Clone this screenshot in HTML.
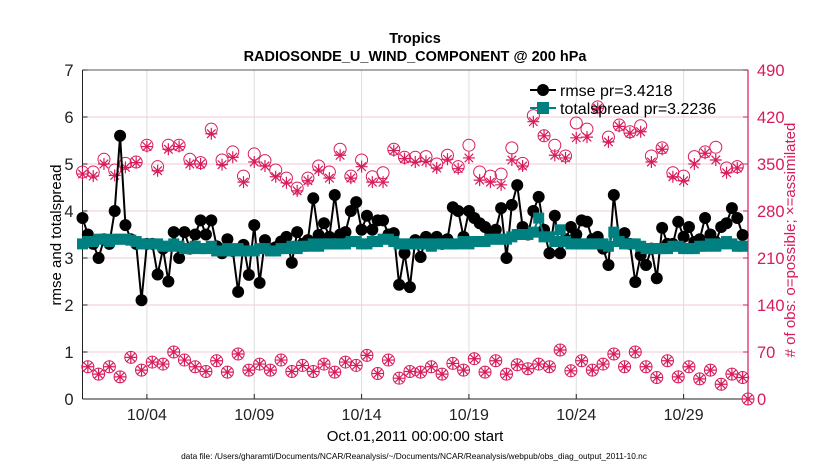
<!DOCTYPE html>
<html><head><meta charset="utf-8"><style>
body{margin:0;background:#fff;}
svg{display:block;font-family:"Liberation Sans",sans-serif;}
</style></head><body>
<svg id="chart" width="830" height="470" viewBox="0 0 830 470" xmlns="http://www.w3.org/2000/svg">
<rect width="830" height="470" fill="#fff"/>
<text x="415" y="43" text-anchor="middle" font-size="14.5" font-weight="bold">Tropics</text>
<text x="415" y="61" text-anchor="middle" font-size="14.5" font-weight="bold">RADIOSONDE_U_WIND_COMPONENT @ 200 hPa</text>
<g id="grid"></g>
<g id="axes"></g>
<g id="marks"></g>
<g id="legend">
 <line x1="530" y1="90" x2="556" y2="90" stroke="#000" stroke-width="2"/>
 <circle cx="543" cy="90" r="6" fill="#000"/>
 <text x="560" y="96" font-size="16">rmse pr=3.4218</text>
 <line x1="530" y1="108" x2="556" y2="108" stroke="#008080" stroke-width="2"/>
 <rect x="537" y="102" width="12" height="12" fill="#008080"/>
 <text x="560" y="114" font-size="16">totalspread pr=3.2236</text>
</g>
<text transform="translate(61,235) rotate(-90)" text-anchor="middle" font-size="15">rmse and totalspread</text>
<text transform="translate(795,240) rotate(-90)" text-anchor="middle" font-size="15" fill="#d81b5a"># of obs: o=possible; ×=assimilated</text>
<text x="415" y="441" text-anchor="middle" font-size="15">Oct.01,2011 00:00:00 start</text>
<text x="414" y="459" text-anchor="middle" font-size="8.3">data file: /Users/gharamti/Documents/NCAR/Reanalysis/~/Documents/NCAR/Reanalysis/webpub/obs_diag_output_2011-10.nc</text>
</svg>
<script>
const rmse=[3.85,3.5,3.3,3.0,3.4,3.3,4.0,5.6,3.7,3.4,3.3,2.1,3.3,3.3,2.65,3.2,2.5,3.55,3.0,3.55,3.2,3.5,3.8,3.5,3.8,3.25,3.1,3.4,3.15,2.28,3.28,2.64,3.7,2.47,3.38,3.2,3.23,3.35,3.45,2.9,3.55,3.3,3.38,4.27,3.49,3.74,3.45,4.34,3.5,3.55,4.0,4.19,3.6,3.9,3.6,3.8,3.8,3.5,3.53,2.43,3.1,2.38,3.38,3.02,3.45,3.3,3.45,3.3,3.4,4.08,4.0,3.45,4.0,3.85,3.74,3.66,3.5,3.6,4.06,3.0,4.13,4.55,3.66,3.5,4.0,4.3,3.6,3.1,3.9,3.1,3.4,3.66,3.5,3.8,3.77,3.4,3.45,3.2,2.85,4.34,3.4,3.53,3.3,2.49,3.06,2.85,3.2,2.57,3.64,3.3,3.3,3.77,3.45,3.66,3.34,3.4,3.85,3.5,3.34,3.66,3.74,4.06,3.85,3.49];
const totalspread=[3.3,3.35,3.35,3.4,3.4,3.35,3.4,3.4,3.4,3.38,3.35,3.3,3.3,3.3,3.3,3.25,3.25,3.3,3.25,3.2,3.2,3.25,3.2,3.2,3.25,3.15,3.15,3.2,3.15,3.2,3.15,3.15,3.15,3.2,3.2,3.15,3.15,3.2,3.2,3.25,3.2,3.25,3.25,3.3,3.25,3.3,3.3,3.3,3.3,3.3,3.35,3.35,3.3,3.3,3.35,3.35,3.4,3.4,3.35,3.3,3.3,3.3,3.3,3.3,3.3,3.25,3.3,3.3,3.3,3.3,3.3,3.35,3.3,3.35,3.35,3.35,3.4,3.4,3.4,3.4,3.45,3.5,3.5,3.5,3.55,3.85,3.45,3.45,3.35,3.6,3.35,3.3,3.3,3.3,3.3,3.3,3.3,3.3,3.25,3.55,3.35,3.3,3.3,3.3,3.25,3.2,3.2,3.2,3.2,3.2,3.25,3.25,3.2,3.2,3.2,3.25,3.25,3.3,3.25,3.3,3.35,3.3,3.25,3.25];
const possibleMain=[338,338,357,341,351,353,378,346,378,378,357,352,402,356,368,332,365,355,341,329,314,329,347,338,372,332,356,331,337,372,360,360,361,350,363,346,378,338,332,335,374,351,422,392,378,362,411,402,435,390,408,398,407,362,374,337,332,361,368,375,344,346,0];
const assimMain=[335,332,350,333,345,352,376,340,372,376,350,350,395,349,360,323,353,347,331,322,310,325,341,329,363,329,346,323,323,370,358,353,354,344,357,343,359,326,323,319,356,347,413,392,363,359,389,390,433,383,406,396,398,353,372,331,325,350,366,356,337,344,0];
const possibleOff=[48,37,48,33,62,43,55,52,70,58,48,41,57,40,67,43,52,43,58,41,50,41,52,40,55,50,65,38,58,31,41,40,48,37,53,43,60,40,57,37,51,45,52,48,73,42,57,43,52,67,48,70,48,32,57,33,48,30,43,22,37,32];
const assimOff=[48,37,48,33,62,43,55,52,70,58,48,41,57,40,67,43,52,43,58,41,50,41,52,40,55,50,65,38,58,31,41,40,48,37,53,43,60,40,57,37,51,45,52,48,73,42,57,43,52,67,48,70,48,32,57,33,48,30,43,22,37,32];
const xTickDays=[3,8,13,18,23,28];
const xTickLabels=["10/04","10/09","10/14","10/19","10/24","10/29"];
const yLeftTicks=[0,1,2,3,4,5,6,7];
const yRightTicks=[0,70,140,210,280,350,420,490];

const NS="http://www.w3.org/2000/svg";
const X0=82.5,X1=748,Y0=399,Y1=70,D0=0,D1=31;
const xs=d=>X0+(d-D0)/(D1-D0)*(X1-X0);
const yl=v=>Y0-v/7*(Y0-Y1);
const yr=v=>Y0-v/490*(Y0-Y1);
const PINK="#d81b5a";
function mk(tag,attrs,parent){const e=document.createElementNS(NS,tag);for(const k in attrs)e.setAttribute(k,attrs[k]);parent.appendChild(e);return e;}
const grid=document.getElementById('grid'),axes=document.getElementById('axes'),marks=document.getElementById('marks');

yLeftTicks.forEach((v,i)=>{
 if(v>0&&v<7){const g=mk('line',{x1:X0,x2:X1,y1:yl(v),y2:yl(v),stroke:'#f2c8d6','stroke-width':1},grid);
 
 }
 const t=mk('text',{x:X0-9,y:yl(v)+6,'text-anchor':'end','font-size':16.5,fill:'#222'},axes);t.textContent=v;
 
 
 mk('line',{x1:X0,x2:X0+5,y1:yl(v),y2:yl(v),stroke:'#222'},axes);
});
yRightTicks.forEach(v=>{
 const t=mk('text',{x:X1+9,y:yr(v)+6,'font-size':16.5,fill:PINK},axes);t.textContent=v;
 
 
 mk('line',{x1:X1-5,x2:X1,y1:yr(v),y2:yr(v),stroke:PINK},axes);
});
xTickDays.forEach((d,i)=>{
 const g=mk('line',{x1:xs(d),x2:xs(d),y1:Y1,y2:Y0,stroke:'#ddd','stroke-width':1},grid);
 
 
 mk('line',{x1:xs(d),x2:xs(d),y1:Y0,y2:Y0-5,stroke:'#222'},axes);
 const t=mk('text',{x:xs(d),y:Y0+21,'text-anchor':'middle','font-size':16,fill:'#222'},axes);t.textContent=xTickLabels[i];
 
 
});
mk('line',{x1:X0,x2:X1,y1:Y1,y2:Y1,stroke:'#222','stroke-width':0.8},axes);
mk('line',{x1:X0,x2:X1,y1:Y0,y2:Y0,stroke:'#222','stroke-width':1},axes);
mk('line',{x1:X0,x2:X0,y1:Y1,y2:Y0,stroke:'#222','stroke-width':1},axes);
mk('line',{x1:X1,x2:X1,y1:Y1,y2:Y0,stroke:PINK,'stroke-width':1.2},axes);

function obs(times,poss,assim,name){
 poss.forEach((v,i)=>{
  const cx=xs(times(i)),cy=yr(v);
  const c=mk('circle',{cx:cx,cy:cy,r:6,fill:'none',stroke:PINK,'stroke-width':1},marks);
  
  
  const ay=yr(assim[i]);const s=6;
  const g=mk('path',{d:`M${cx-s},${ay}H${cx+s}M${cx},${ay-s}V${ay+s}M${cx-4.3},${ay-4.3}L${cx+4.3},${ay+4.3}M${cx-4.3},${ay+4.3}L${cx+4.3},${ay-4.3}`,stroke:PINK,'stroke-width':1.2,fill:'none'},marks);
  
  
 });
}
obs(i=>i*0.5,possibleMain,assimMain,'obs-main');
obs(i=>0.25+i*0.5,possibleOff,assimOff,'obs-offcycle');

const rl=mk('polyline',{points:rmse.map((v,i)=>xs(i*0.25)+','+yl(v)).join(' '),fill:'none',stroke:'#000','stroke-width':2},marks);


rmse.forEach((v,i)=>{const c=mk('circle',{cx:xs(i*0.25),cy:yl(v),r:6,fill:'#000'},marks);
 
 });
const tl=mk('polyline',{points:totalspread.map((v,i)=>xs(i*0.25)+','+yl(v)).join(' '),fill:'none',stroke:'#008080','stroke-width':2},marks);


totalspread.forEach((v,i)=>{const r=mk('rect',{x:xs(i*0.25)-5.5,y:yl(v)-5.5,width:11,height:11,fill:'#008080'},marks);
 
 });
</script>
</body></html>
